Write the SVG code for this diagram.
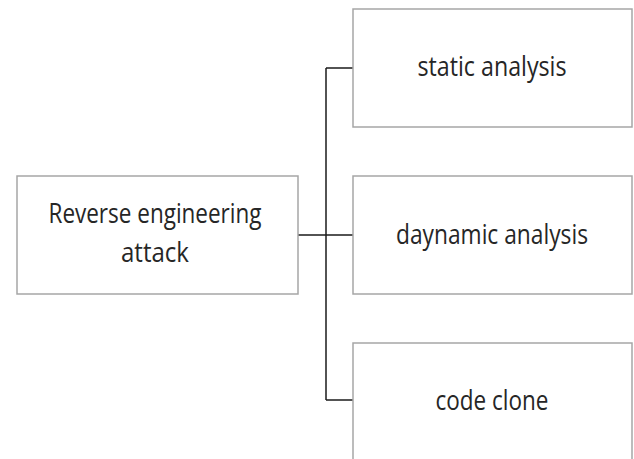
<svg xmlns="http://www.w3.org/2000/svg" width="634" height="459" viewBox="0 0 634 459">
<style>
.box{fill:#fff;stroke:#a6a6a6;stroke-width:1.5}
.t{font-family:"Open Sans","Liberation Sans",sans-serif;font-size:27px;fill:#262626;text-anchor:middle}
.c{fill:none;stroke:#1a1a1a;stroke-width:1.5}
</style>
<rect width="634" height="459" fill="#fff"/>
<g id="connectors">
<path class="c" d="M298 235H353"/>
<path class="c" d="M326 68V400"/>
<path class="c" d="M326 68H353"/>
<path class="c" d="M326 400H353"/>
</g>
<g id="root"><rect class="box" x="17" y="176" width="281" height="118"/>
<text class="t" x="155" y="223" textLength="213" lengthAdjust="spacingAndGlyphs">Reverse engineering</text>
<text class="t" x="155" y="262" textLength="68" lengthAdjust="spacingAndGlyphs">attack</text></g>
<g id="static"><rect class="box" x="353" y="9" width="279" height="118"/>
<text class="t" x="492" y="76" textLength="149" lengthAdjust="spacingAndGlyphs">static analysis</text></g>
<g id="dynamic"><rect class="box" x="353" y="176" width="279" height="118"/>
<text class="t" x="492" y="244" textLength="192" lengthAdjust="spacingAndGlyphs">daynamic analysis</text></g>
<g id="clone"><rect class="box" x="353" y="343" width="279" height="130"/>
<text class="t" x="492" y="410" textLength="113" lengthAdjust="spacingAndGlyphs">code clone</text></g>
</svg>
